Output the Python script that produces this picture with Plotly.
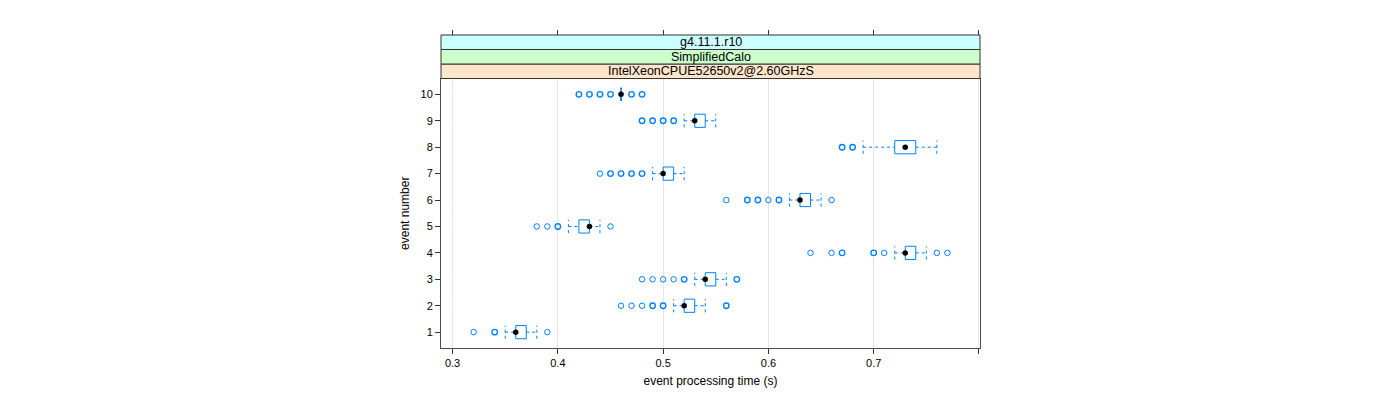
import plotly.graph_objects as go
from collections import Counter

# ---------------- data ----------------
events = [1, 2, 3, 4, 5, 6, 7, 8, 9, 10]
lower_whisker = [0.35, 0.51, 0.53, 0.72, 0.41, 0.62, 0.49, 0.69, 0.52, 0.46]
q1 = [0.36, 0.52, 0.54, 0.73, 0.42, 0.63, 0.50, 0.72, 0.53, 0.46]
median = [0.36, 0.52, 0.54, 0.73, 0.43, 0.63, 0.50, 0.73, 0.53, 0.46]
q3 = [0.37, 0.53, 0.55, 0.74, 0.43, 0.64, 0.51, 0.74, 0.54, 0.46]
upper_whisker = [0.38, 0.54, 0.56, 0.75, 0.44, 0.65, 0.52, 0.76, 0.55, 0.46]
outliers = [
    [0.32, 0.34, 0.34, 0.39],
    [0.46, 0.47, 0.48, 0.49, 0.49, 0.50, 0.50, 0.56, 0.56],
    [0.48, 0.49, 0.50, 0.51, 0.52, 0.52, 0.57, 0.57],
    [0.64, 0.66, 0.67, 0.67, 0.70, 0.70, 0.71, 0.76, 0.77],
    [0.38, 0.39, 0.40, 0.40, 0.45],
    [0.56, 0.58, 0.58, 0.59, 0.59, 0.60, 0.61, 0.61, 0.66],
    [0.44, 0.45, 0.45, 0.46, 0.46, 0.47, 0.47, 0.48, 0.48],
    [0.67, 0.67, 0.68, 0.68],
    [0.48, 0.48, 0.49, 0.49, 0.50, 0.50, 0.51, 0.51],
    [0.42, 0.42, 0.43, 0.43, 0.44, 0.44, 0.45, 0.45, 0.47, 0.47, 0.48, 0.48],
]
x_ticks = [0.3, 0.4, 0.5, 0.6, 0.7, 0.8]
x_tick_labels = ["0.3", "0.4", "0.5", "0.6", "0.7", ""]
y_tick_labels = [str(e) for e in events]
strip_labels = ["IntelXeonCPUE52650v2@2.60GHzS", "SimplifiedCalo", "g4.11.1.r10"]
strip_colors = ["#ffe5cc", "#ccffcc", "#ccffff"]
x_title = "event processing time (s)"
y_title = "event number"

# ---------------- style ----------------
BLUE = "#0080ff"
H = 0.25  # half box height (category units)
FONT = "Liberation Sans, Arial, sans-serif"
X_RANGE = [0.289, 0.801]
Y_RANGE = [0.4, 10.6]

fig = go.Figure()

# boxes
bx, by = [], []
for e, a, b in zip(events, q1, q3):
    bx += [a, b, b, a, a, None]
    by += [e - H, e - H, e + H, e + H, e - H, None]
fig.add_trace(go.Scatter(x=bx, y=by, mode="lines", line=dict(color=BLUE, width=1),
                         hoverinfo="skip", showlegend=False))

# whiskers (dashed) + caps
wx, wy = [], []
for e, lw, a, b, uw in zip(events, lower_whisker, q1, q3, upper_whisker):
    wx += [lw, a, None, b, uw, None, lw, lw, None, uw, uw, None]
    wy += [e, e, None, e, e, None, e - H, e + H, None, e - H, e + H, None]
fig.add_trace(go.Scatter(x=wx, y=wy, mode="lines",
                         line=dict(color=BLUE, width=1, dash="3px,3px"),
                         hoverinfo="skip", showlegend=False))

# outliers (overlapping points drawn heavier)
for mult, width in [(1, 1.0), (2, 1.35)]:
    ox, oy = [], []
    for e, pts in zip(events, outliers):
        for v, c in Counter(pts).items():
            if (c >= 2) == (mult == 2):
                ox.append(v)
                oy.append(e)
    fig.add_trace(go.Scatter(x=ox, y=oy, mode="markers",
                             marker=dict(symbol="circle-open", size=5.5, color=BLUE,
                                         line=dict(color=BLUE, width=width)),
                             hoverinfo="skip", showlegend=False))

# medians
fig.add_trace(go.Scatter(x=median, y=events, mode="markers",
                         marker=dict(symbol="circle", size=5.5, color="black"),
                         hoverinfo="skip", showlegend=False))

# invisible trace for top axis
fig.add_trace(go.Scatter(x=[x_ticks[0]], y=[events[0]], xaxis="x2", mode="markers",
                         marker=dict(opacity=0), hoverinfo="skip", showlegend=False))

# layout geometry (page body has an 8px offset)
M_L, M_R, M_T, M_B = 433, 428, 27, 60
paper_h = 400 - M_T - M_B
strip_h = 14.5 / paper_h
dom_top = 1 - 3 * strip_h

shapes = []
annotations = []
for i, (lab, col) in enumerate(zip(strip_labels, strip_colors)):
    y0 = dom_top + i * strip_h
    y1 = y0 + strip_h
    shapes.append(dict(type="rect", xref="paper", yref="paper", x0=0, x1=1, y0=y0, y1=y1,
                       fillcolor=col, line=dict(color="#333333", width=1), layer="above"))
    annotations.append(dict(text=lab, xref="paper", yref="paper", x=0.5, y=(y0 + y1) / 2,
                            showarrow=False, font=dict(family=FONT, size=12.5, color="black"),
                            xanchor="center", yanchor="middle"))

axis_common = dict(tickfont=dict(family=FONT, size=11, color="black"),
                   ticks="outside", ticklen=5, tickcolor="#333333", zeroline=False)

fig.update_layout(
    width=1400, height=400,
    margin=dict(l=M_L, r=M_R, t=M_T, b=M_B),
    paper_bgcolor="white", plot_bgcolor="white",
    shapes=shapes, annotations=annotations,
    xaxis=dict(range=X_RANGE, tickvals=x_ticks, ticktext=x_tick_labels,
               showgrid=True, gridcolor="#e6e6e6", gridwidth=1,
               showline=True, linecolor="#4d4d4d", linewidth=1, mirror=True,
               title=dict(text=x_title, font=dict(family=FONT, size=12, color="black"), standoff=8),
               **axis_common),
    xaxis2=dict(range=X_RANGE, overlaying="x", side="top", anchor="free", position=1,
                tickvals=x_ticks, showticklabels=False, showgrid=False, showline=False,
                **axis_common),
    yaxis=dict(range=Y_RANGE, domain=[0, dom_top], tickvals=events, ticktext=y_tick_labels,
               showgrid=False, showline=True, linecolor="#4d4d4d", linewidth=1, mirror=True,
               title=dict(text=y_title, font=dict(family=FONT, size=12, color="black"), standoff=8),
               **axis_common),
)

fig.write_html("out.html")
